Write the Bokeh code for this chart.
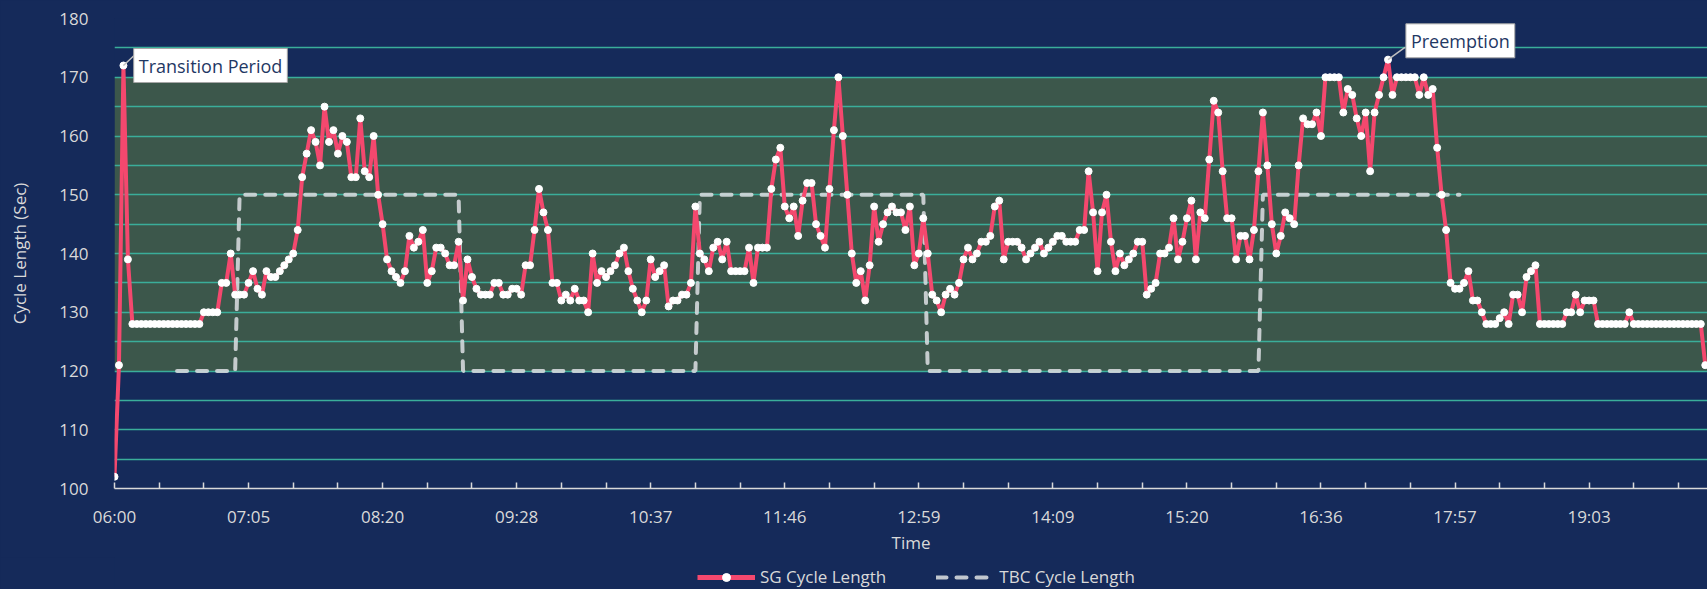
from bokeh.plotting import figure
from bokeh.models import (Range1d, FixedTicker, Legend, LegendItem, Label, ColumnDataSource)
from bokeh.layouts import column
from bokeh.embed import file_html
from bokeh.resources import INLINE

# ---------------- data ----------------
time_labels = ["06:00", "07:05", "08:20", "09:28", "10:37", "11:46",
               "12:59", "14:09", "15:20", "16:36", "17:57", "19:03"]
label_every = 30   # categories between labelled ticks
tick_every = 10    # categories between tick marks

sg_cycle = [
    102, 121, 172, 139,
    128, 128, 128, 128, 128, 128, 128, 128, 128, 128, 128, 128, 128, 128, 128, 128,
    130, 130, 130, 130, 135, 135, 140, 133, 133, 133,
    135, 137, 134, 133, 137, 136, 136, 137, 138, 139,
    140, 144, 153, 157, 161, 159, 155, 165, 159, 161,
    157, 160, 159, 153, 153, 163, 154, 153, 160, 150,
    145, 139, 137, 136, 135, 137, 143, 141, 142, 144,
    135, 137, 141, 141, 140, 138, 138, 142, 132, 139,
    136, 134, 133, 133, 133, 135, 135, 133, 133, 134,
    134, 133, 138, 138, 144, 151, 147, 144, 135, 135,
    132, 133, 132, 134, 132, 132, 130, 140, 135, 137,
    136, 137, 138, 140, 141, 137, 134, 132, 130, 132,
    139, 136, 137, 138, 131, 132, 132, 133, 133, 135,
    148, 140, 139, 137, 141, 142, 139, 142, 137, 137,
    137, 137, 141, 135, 141, 141, 141, 151, 156, 158,
    148, 146, 148, 143, 149, 152, 152, 145, 143, 141,
    151, 161, 170, 160, 150, 140, 135, 137, 132, 138,
    148, 142, 145, 147, 148, 147, 147, 144, 148, 138,
    140, 146, 140, 133, 132, 130, 133, 134, 133, 135,
    139, 141, 139, 140, 142, 142, 143, 148, 149, 139,
    142, 142, 142, 141, 139, 140, 141, 142, 140, 141,
    142, 143, 143, 142, 142, 142, 144, 144, 154, 147,
    137, 147, 150, 142, 137, 140, 138, 139, 140, 142,
    142, 133, 134, 135, 140, 140, 141, 146, 139, 142,
    146, 149, 139, 147, 146, 156, 166, 164, 154, 146,
    146, 139, 143, 143, 139, 144, 154, 164, 155, 145,
    140, 143, 147, 146, 145, 155, 163, 162, 162, 164,
    160, 170, 170, 170, 170, 164, 168, 167, 163, 160,
    164, 154, 164, 167, 170, 173, 167, 170, 170, 170,
    170, 170, 167, 170, 167, 168, 158, 150, 144, 135,
    134, 134, 135, 137, 132, 132, 130, 128, 128, 128,
    129, 130, 128, 133, 133, 130, 136, 137, 138, 128,
    128, 128, 128, 128, 128, 130, 130, 133, 130, 132,
    132, 132, 128, 128, 128, 128, 128, 128, 128, 130,
    128, 128, 128, 128, 128, 128, 128, 128, 128, 128,
    128, 128, 128, 128, 128, 128, 121,
]

# TBC plan: (first category, last category, cycle length)
tbc_cycle_segments = [
    (14, 27, 120),
    (28, 77, 150),
    (78, 130, 120),
    (131, 181, 150),
    (182, 256, 120),
    (257, 301, 150),
]

band_low, band_high = 120, 170
y_min, y_max = 100, 180

annotations = [("Transition Period", 2), ("Preemption", 285)]
series_names = ["SG Cycle Length", "TBC Cycle Length"]

# ---------------- build ----------------
NAVY = "#152A5A"
GREEN = "#3C574B"
GRID = "#3AAE9A"
PINK = "#F4486E"
TBC_COL = "#D4D8DC"
TXT = "#D9D9D9"
FONT = "Open Sans"

W = 1707
MAIN_H = 557
LEG_H = 32
FRAME_LEFT = 114

n = len(sg_cycle)
xs = list(range(n))
x_end = n - 0.5

tbc_x, tbc_y = [], []
for a, b, v in tbc_cycle_segments:
    for i in range(a, b + 1):
        tbc_x.append(i)
        tbc_y.append(v)

p = figure(width=W, height=MAIN_H, output_backend="svg", toolbar_location=None,
           x_range=Range1d(0, x_end), y_range=Range1d(y_min, y_max),
           min_border_left=FRAME_LEFT, min_border_right=0, min_border_top=18,
           min_border_bottom=MAIN_H - 488)
p.background_fill_color = NAVY
p.border_fill_color = NAVY
p.outline_line_color = None

# shaded band
p.varea(x=[0, x_end], y1=[band_low, band_low], y2=[band_high, band_high],
        fill_color=GREEN, level="image")

# grid
p.xgrid.grid_line_color = None
p.ygrid.ticker = FixedTicker(ticks=list(range(y_min + 5, y_max + 1, 5)))
p.ygrid.grid_line_color = GRID
p.ygrid.grid_line_width = 1.5

# axes
p.yaxis.ticker = FixedTicker(ticks=list(range(y_min, y_max + 1, 10)))
p.yaxis.axis_line_color = None
p.yaxis.major_tick_line_color = None
p.yaxis.minor_tick_line_color = None
p.yaxis.major_label_standoff = 20
p.yaxis.axis_label = "Cycle Length (Sec)"
p.yaxis.axis_label_standoff = 25

ticks = list(range(0, n, tick_every))
overrides = {}
for t in ticks:
    if t % label_every == 0 and t // label_every < len(time_labels):
        overrides[t] = time_labels[t // label_every]
    else:
        overrides[t] = ""
p.xaxis.ticker = FixedTicker(ticks=ticks)
p.xaxis.major_label_overrides = overrides
p.xaxis.axis_line_color = TXT
p.xaxis.axis_line_width = 1.5
p.xaxis.major_tick_line_color = TXT
p.xaxis.major_tick_line_width = 1.5
p.xaxis.major_tick_in = 6
p.xaxis.major_tick_out = 0
p.xaxis.minor_tick_line_color = None
p.xaxis.major_label_standoff = 16
p.xaxis.axis_label = "Time"
p.xaxis.axis_label_standoff = 0

for ax in (p.xaxis[0], p.yaxis[0]):
    ax.major_label_text_color = TXT
    ax.major_label_text_font = FONT
    ax.major_label_text_font_size = "17px"
    ax.axis_label_text_color = TXT
    ax.axis_label_text_font = FONT
    ax.axis_label_text_font_size = "17px"
    ax.axis_label_text_font_style = "normal"

# series
tbc_style = dict(line_color=TBC_COL, line_width=4, line_alpha=0.9,
                 line_dash="10 10", line_cap="round")
sg_line_style = dict(line_color=PINK, line_width=4, line_join="round")
dot_style = dict(size=7, fill_color="white", line_color="white")

p.line(tbc_x, tbc_y, **tbc_style)
sg_src = ColumnDataSource(dict(x=xs, y=sg_cycle))
p.line("x", "y", source=sg_src, **sg_line_style)
p.scatter("x", "y", source=sg_src, **dot_style)

# callouts: (label dx, label dy, leader dx, leader dy) relative to the point
offsets = {"Transition Period": (2.3, 0.0, 2.4, 1.7), "Preemption": (4.0, 3.2, 3.8, 2.1)}
for text, idx in annotations:
    dx, dy, ldx, ldy = offsets[text]
    px, py = idx, sg_cycle[idx]
    p.segment(x0=[px], y0=[py], x1=[px + ldx], y1=[py + ldy], line_color="#BFBFBF",
              line_width=1.5)
    lab = Label(x=px + dx, y=py + dy, x_units="data", y_units="data", text=text,
                text_font=FONT, text_font_size="18px", text_color="#1F3864",
                text_align="left", text_baseline="middle",
                background_fill_color="white", border_line_color="#A6A6A6",
                border_line_width=1, padding=5)
    p.add_layout(lab)

# legend strip (separate figure below the chart); dummy renderers sit off-range
lf = figure(width=W, height=LEG_H, output_backend="svg", toolbar_location=None,
            x_range=Range1d(0, 1), y_range=Range1d(0, 1),
            min_border_left=0, min_border_right=0, min_border_top=0, min_border_bottom=0)
lf.axis.visible = False
lf.grid.visible = False
lf.outline_line_color = None
lf.background_fill_color = NAVY
lf.border_fill_color = NAVY
dummy = ColumnDataSource(dict(x=[-5, -4], y=[-5, -4]))
l_sg = lf.line("x", "y", source=dummy, line_color=PINK, line_width=5)
l_dot = lf.scatter("x", "y", source=dummy, **dot_style)
l_tbc = lf.line("x", "y", source=dummy, **tbc_style)

legend = Legend(items=[LegendItem(label=series_names[0], renderers=[l_sg, l_dot]),
                       LegendItem(label=series_names[1], renderers=[l_tbc])],
                orientation="horizontal", location=(697 - FRAME_LEFT, 1))
legend.background_fill_alpha = 0
legend.border_line_color = None
legend.label_text_color = TXT
legend.label_text_font = FONT
legend.label_text_font_size = "17px"
legend.glyph_width = 58
legend.label_standoff = 5
legend.spacing = 50
legend.margin = 0
legend.padding = 2
lf.add_layout(legend, "center")

layout = column(p, lf, spacing=0)
layout.styles = {"background-color": NAVY}

html = file_html(layout, INLINE)
html = html.replace("<body>", '<body style="background-color:%s;">' % NAVY, 1)
open("out.html", "w").write(html)
